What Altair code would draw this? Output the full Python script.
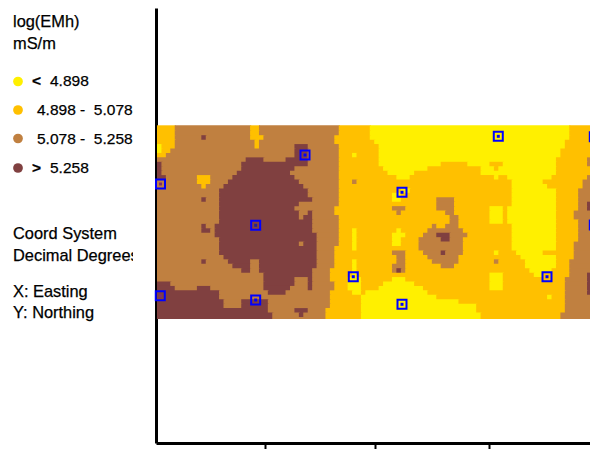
import altair as alt
import pandas as pd

COLORS = {"Y": "#FFF000", "O": "#FFC000", "B": "#C08040", "D": "#804040"}
CLASS_NAMES = {"Y": "< 4.898", "O": "4.898 - 5.078", "B": "5.078 - 5.258", "D": "> 5.258"}

# Each row: class letter + last column (inclusive) of that run
ROWS = [
"O3 B20 O22 B40 O47 Y92 O99",
"O3 B20 O22 B40 O47 Y92 O99",
"O3 B9 D10 B20 O23 B39 O47 Y92 O99",
"O3 B21 O22 B39 O48 Y91 O99",
"Y0 O3 B21 O22 B30 D33 B40 O49 Y91 O99",
"Y0 O2 B30 D33 B40 O49 Y90 O99",
"O1 B30 D33 B40 O43 Y44 O49 Y90 O97 B99",
"B19 D23 B28 D33 B40 O49 Y89 O96 B99",
"D0 B18 D33 B40 O49 Y63 O69 Y74 O77 Y89 O96 B99",
"D0 B18 D30 B40 O50 Y60 O72 Y75 O76 Y89 O99",
"D0 B17 D29 B40 O51 Y57 O72 Y89 O99",
"D1 B8 O11 B16 D30 B40 O53 Y56 O75 Y76 O78 Y88 O96 B99",
"B8 O11 B15 D31 B40 O43 B44 O79 Y86 O95 B99",
"B9 O10 B14 D32 B40 O79 Y87 O95 B99",
"B13 D33 B40 O54 Y56 O79 Y89 O94 B97 D99",
"B13 D33 B40 O52 Y54 O79 Y89 O94 B97 D99",
"B9 D10 B13 D34 B40 O52 Y54 O62 B66 O79 Y89 O94 B97 D99",
"B13 D31 B40 O62 B66 O79 Y89 O94 B96 D99",
"B13 D30 B39 O52 B55 O62 B66 O74 Y77 O78 Y89 O94 B96 D99",
"B13 D31 B33 D34 B39 O53 B54 O64 B66 O74 Y77 O78 Y89 O93 B97 D99",
"B13 D31 B32 D34 B40 O65 B67 O74 Y77 O78 Y89 O93 B97 D99",
"B13 D34 B40 O65 B67 O74 Y77 O78 Y89 O94 B99",
"B9 D10 B12 D34 B40 O61 B62 O64 B67 O79 Y89 O94 B99",
"B9 D11 B12 D34 B40 O43 Y44 O53 Y54 O60 B68 O79 Y89 O94 B99",
"B12 D35 B40 O43 Y44 O52 Y55 O59 B62 D65 B69 O79 Y89 O94 B97 D99",
"B13 D35 B40 O43 Y44 O52 Y54 O58 B63 D65 B68 O79 Y89 O94 B97 D99",
"B13 D31 B32 D35 B40 O43 Y44 O52 Y54 O58 B68 O79 Y89 O93 B97 D99",
"B13 D35 B39 O43 Y44 O58 B68 O79 Y89 O93 B97 D99",
"B13 D35 B39 O52 B55 O59 B63 D64 B68 O75 Y76 O80 Y86 O93 B97 D99",
"B14 D35 B39 O53 B55 O60 B67 O81 Y89 O93 B97 D99",
"B9 D10 B15 D20 B22 D35 B39 O43 Y44 O53 B55 O61 B67 O75 B76 O82 Y89 O92 B97 D99",
"B16 D20 B22 D35 B39 O43 Y44 O52 B55 O63 B66 O82 Y89 O92 B97 D99",
"B18 D20 B22 D34 B38 O43 Y44 O52 B53 D54 B55 O83 Y88 O92 B97 D99",
"B23 D34 B38 O43 Y44 O74 Y77 O84 Y86 O92 B96 D99",
"B23 D30 B33 D34 B38 O42 Y45 O52 Y55 O74 Y77 O91 B96 D99",
"D2 B23 D30 B33 D34 B39 O42 Y45 O50 Y57 O74 Y77 O91 B96 D99",
"D3 B8 D11 B23 D29 B33 D34 B39 O42 Y45 O49 Y59 O74 Y77 O91 B96 D99",
"D13 B24 D28 B38 O43 Y45 O46 Y60 O91 B96 D99",
"D13 B38 O45 Y62 O87 Y88 O91 B99",
"D14 B18 D24 B38 O45 Y67 O91 B99",
"D14 B18 D24 B38 O45 Y71 O91 B99",
"D24 B30 D33 B37 O45 Y71 O91 B99",
"D25 B31 D32 B37 O45 Y72 O90 B99",
"D25 B37 O45 Y72 O90 B99",
]

MARKER_COL = [0.79, 22.26, 0.74, 22.26, 33.39, 55.27, 44.28, 55.27, 76.99, 98.65, 98.65, 87.98]
MARKER_ROW = [13.01, 22.33, 38.21, 39.18, 6.47, 14.88, 33.92, 40.15, 2.25, 2.34, 22.26, 33.92]
MARKER_DOT = ["#803070", "#2020A0", "#803070", "#0000FF", "#0000FF", "#0000FF",
              "#0000FF", "#0000FF", "#0000FF", "#0000FF", "#0000FF", "#0000FF"]
X_TICKS = [-0.3, 24.4, 49.2, 74.9]

OVERLAP = 0.25
runs = []
for n, row in enumerate(ROWS):
    start = 0
    for tok in row.split():
        end = int(tok[1:]) + 1
        runs.append({
            "c0": start, "c1": end + OVERLAP,
            "r0": -0.23 if n == 0 else n,
            "r1": 43.46 if n == len(ROWS) - 1 else n + 1 + OVERLAP,
            "cls": CLASS_NAMES[tok[0]],
        })
        start = end
runs = pd.DataFrame(runs)

W, H = 434, 435
x_scale = alt.Scale(domain=[-0.2256, 97.68], nice=False, zero=False)
y_scale = alt.Scale(domain=[71.43, -26.69], nice=False, zero=False)
cls_scale = alt.Scale(domain=[CLASS_NAMES[k] for k in "YOBD"], range=[COLORS[k] for k in "YOBD"])

x_axis = alt.Axis(values=X_TICKS, labels=False, title=None, grid=False, domainWidth=3,
                  domainColor="#000000", tickColor="#000000", tickWidth=2, tickSize=6)
y_axis = alt.Axis(labels=False, ticks=False, title=None, grid=False, domainWidth=3,
                  domainColor="#000000")

raster = alt.Chart(runs).mark_rect().encode(
    x=alt.X("c0:Q", scale=x_scale, axis=x_axis),
    x2="c1:Q",
    y=alt.Y("r0:Q", scale=y_scale, axis=y_axis),
    y2="r1:Q",
    color=alt.Color("cls:N", scale=cls_scale, legend=None),
    order=alt.Order("r0:Q"),
)

markers = pd.DataFrame({"c": MARKER_COL, "r": MARKER_ROW, "dot": MARKER_DOT})
ring = alt.Chart(markers).mark_point(shape="square", filled=False, size=81, strokeWidth=2,
                                     color="#0000FF", opacity=1).encode(
    x=alt.X("c:Q", scale=x_scale), y=alt.Y("r:Q", scale=y_scale))
dot = alt.Chart(markers).mark_point(shape="square", filled=True, size=9, opacity=1).encode(
    x=alt.X("c:Q", scale=x_scale), y=alt.Y("r:Q", scale=y_scale),
    color=alt.Color("dot:N", scale=None))

# page -> plot offsets
OX, OY = 156, 8
FONT = dict(font="Liberation Sans", fontSize=16.4, align="left", baseline="middle", color="#000000",
            stroke="#000000", strokeWidth=0.25)
NB = "\u00a0"

def text_at(s, px, py, **kw):
    opts = dict(FONT); opts.update(kw)
    return alt.Chart(pd.DataFrame({"t": [s]})).mark_text(**opts).encode(
        text="t:N", x=alt.value(px - OX), y=alt.value(py - OY))

def dot_at(col, py):
    return alt.Chart(pd.DataFrame({"t": [0]})).mark_point(
        shape="circle", filled=True, size=95, color=col, opacity=1
    ).encode(x=alt.value(18 - OX), y=alt.value(py - OY))

layers = [raster, ring, dot]
layers += [text_at("log(EMh)", 13, 22), text_at("mS/m", 13, 44)]
LEGEND_Y = [81.5, 110, 138.5, 168]
for k, py in zip("YOBD", LEGEND_Y):
    layers.append(dot_at(COLORS[k], py))
layers += [
    text_at("<", 32, 81, fontWeight="bold", fontSize=15.5), text_at("4.898", 50, 81, fontSize=15.5),
    text_at(f"4.898 -{NB}{NB}5.078", 37, 110, fontSize=15.5),
    text_at(f"5.078 -{NB}{NB}5.258", 37, 138.5, fontSize=15.5),
    text_at(">", 32, 168, fontWeight="bold", fontSize=15.5), text_at("5.258", 50, 168, fontSize=15.5),
    text_at("Coord System", 13, 234),
    text_at("Decimal Degrees", 13, 256),
    text_at("X: Easting", 13, 292),
    text_at("Y: Northing", 13, 313),
]
mask = alt.Chart(pd.DataFrame({"t": [0]})).mark_rect(color="#FFFFFF").encode(
    x=alt.value(133 - OX), x2=alt.value(153 - OX), y=alt.value(245 - OY), y2=alt.value(268 - OY))
layers.append(mask)

chart = alt.layer(*layers).properties(
    width=W, height=H,
    padding={"left": 148, "top": 0, "right": 0, "bottom": 6},
    autosize=alt.AutoSizeParams(type="none"),
).configure_view(stroke=None).resolve_scale(color="independent")

chart.save("out.html", embed_options={"renderer": "svg", "actions": False})
